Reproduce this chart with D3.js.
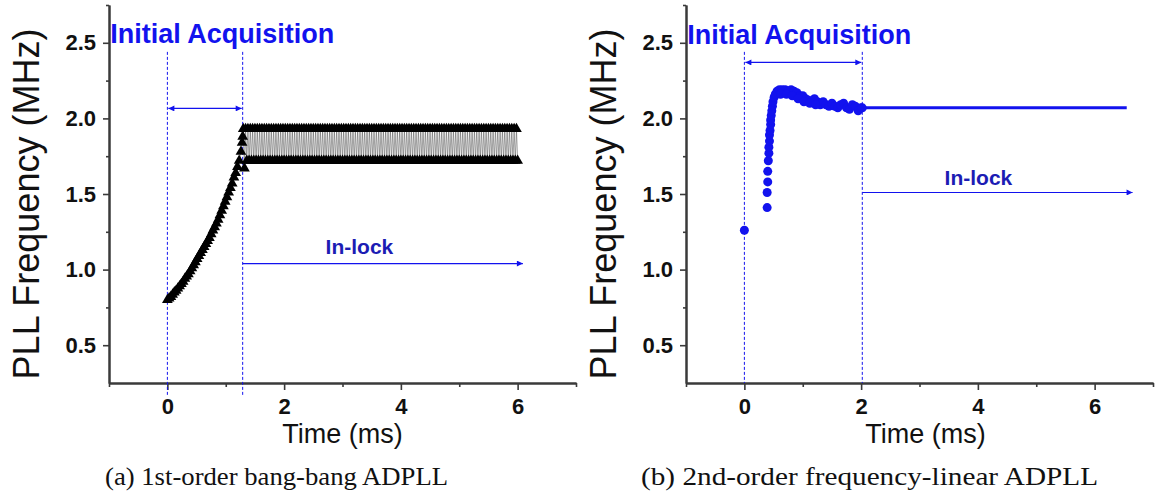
<!DOCTYPE html>
<html>
<head>
<meta charset="utf-8">
<script src="https://cdn.jsdelivr.net/npm/d3@7"></script>
<style>
  body { margin: 0; background: #fff; }
  svg { display: block; }
</style>
</head>
<body>
<svg id="fig" width="1155" height="497"></svg>
<script>
// (a) 1st-order bang-bang: acquisition ramp (ms, MHz)
const acqTimeA = [0.00, 0.03, 0.06, 0.09, 0.12, 0.15, 0.18, 0.21, 0.24, 0.27,
    0.30, 0.33, 0.36, 0.39, 0.42, 0.45, 0.48, 0.51, 0.54, 0.57,
    0.60, 0.63, 0.66, 0.69, 0.72, 0.75, 0.78, 0.81, 0.84, 0.87,
    0.90, 0.93, 0.96, 0.99, 1.02, 1.05, 1.08, 1.11, 1.14, 1.17,
    1.20, 1.23, 1.26, 1.28, 1.29];
const acqFreqA = [0.80, 0.81, 0.82, 0.835, 0.85, 0.86, 0.875, 0.89, 0.905, 0.92,
    0.94, 0.955, 0.97, 0.99, 1.01, 1.03, 1.05, 1.07, 1.09, 1.11,
    1.13, 1.15, 1.17, 1.19, 1.21, 1.235, 1.26, 1.28, 1.305, 1.33,
    1.36, 1.39, 1.42, 1.45, 1.48, 1.51, 1.54, 1.57, 1.61, 1.64,
    1.68, 1.72, 1.78, 1.84, 1.88];

// (a) in-lock: toggles between two codes every sample
const lockTimeA = [1.30, 1.32, 1.34, 1.36, 1.38, 1.40, 1.42, 1.44, 1.46, 1.48,
    1.50, 1.52, 1.54, 1.56, 1.58, 1.60, 1.62, 1.64, 1.66, 1.68,
    1.70, 1.72, 1.74, 1.76, 1.78, 1.80, 1.82, 1.84, 1.86, 1.88,
    1.90, 1.92, 1.94, 1.96, 1.98, 2.00, 2.02, 2.04, 2.06, 2.08,
    2.10, 2.12, 2.14, 2.16, 2.18, 2.20, 2.22, 2.24, 2.26, 2.28,
    2.30, 2.32, 2.34, 2.36, 2.38, 2.40, 2.42, 2.44, 2.46, 2.48,
    2.50, 2.52, 2.54, 2.56, 2.58, 2.60, 2.62, 2.64, 2.66, 2.68,
    2.70, 2.72, 2.74, 2.76, 2.78, 2.80, 2.82, 2.84, 2.86, 2.88,
    2.90, 2.92, 2.94, 2.96, 2.98, 3.00, 3.02, 3.04, 3.06, 3.08,
    3.10, 3.12, 3.14, 3.16, 3.18, 3.20, 3.22, 3.24, 3.26, 3.28,
    3.30, 3.32, 3.34, 3.36, 3.38, 3.40, 3.42, 3.44, 3.46, 3.48,
    3.50, 3.52, 3.54, 3.56, 3.58, 3.60, 3.62, 3.64, 3.66, 3.68,
    3.70, 3.72, 3.74, 3.76, 3.78, 3.80, 3.82, 3.84, 3.86, 3.88,
    3.90, 3.92, 3.94, 3.96, 3.98, 4.00, 4.02, 4.04, 4.06, 4.08,
    4.10, 4.12, 4.14, 4.16, 4.18, 4.20, 4.22, 4.24, 4.26, 4.28,
    4.30, 4.32, 4.34, 4.36, 4.38, 4.40, 4.42, 4.44, 4.46, 4.48,
    4.50, 4.52, 4.54, 4.56, 4.58, 4.60, 4.62, 4.64, 4.66, 4.68,
    4.70, 4.72, 4.74, 4.76, 4.78, 4.80, 4.82, 4.84, 4.86, 4.88,
    4.90, 4.92, 4.94, 4.96, 4.98, 5.00, 5.02, 5.04, 5.06, 5.08,
    5.10, 5.12, 5.14, 5.16, 5.18, 5.20, 5.22, 5.24, 5.26, 5.28,
    5.30, 5.32, 5.34, 5.36, 5.38, 5.40, 5.42, 5.44, 5.46, 5.48,
    5.50, 5.52, 5.54, 5.56, 5.58, 5.60, 5.62, 5.64, 5.66, 5.68,
    5.70, 5.72, 5.74, 5.76, 5.78, 5.80, 5.82, 5.84, 5.86, 5.88,
    5.90, 5.92, 5.94, 5.96, 5.98, 6.00];
const lockFreqA = [1.93, 1.67, 1.93, 1.72, 1.93, 1.72, 1.93, 1.72, 1.93, 1.72,
    1.93, 1.72, 1.93, 1.72, 1.93, 1.72, 1.93, 1.72, 1.93, 1.72,
    1.93, 1.72, 1.93, 1.72, 1.93, 1.72, 1.93, 1.72, 1.93, 1.72,
    1.93, 1.72, 1.93, 1.72, 1.93, 1.72, 1.93, 1.72, 1.93, 1.72,
    1.93, 1.72, 1.93, 1.72, 1.93, 1.72, 1.93, 1.72, 1.93, 1.72,
    1.93, 1.72, 1.93, 1.72, 1.93, 1.72, 1.93, 1.72, 1.93, 1.72,
    1.93, 1.72, 1.93, 1.72, 1.93, 1.72, 1.93, 1.72, 1.93, 1.72,
    1.93, 1.72, 1.93, 1.72, 1.93, 1.72, 1.93, 1.72, 1.93, 1.72,
    1.93, 1.72, 1.93, 1.72, 1.93, 1.72, 1.93, 1.72, 1.93, 1.72,
    1.93, 1.72, 1.93, 1.72, 1.93, 1.72, 1.93, 1.72, 1.93, 1.72,
    1.93, 1.72, 1.93, 1.72, 1.93, 1.72, 1.93, 1.72, 1.93, 1.72,
    1.93, 1.72, 1.93, 1.72, 1.93, 1.72, 1.93, 1.72, 1.93, 1.72,
    1.93, 1.72, 1.93, 1.72, 1.93, 1.72, 1.93, 1.72, 1.93, 1.72,
    1.93, 1.72, 1.93, 1.72, 1.93, 1.72, 1.93, 1.72, 1.93, 1.72,
    1.93, 1.72, 1.93, 1.72, 1.93, 1.72, 1.93, 1.72, 1.93, 1.72,
    1.93, 1.72, 1.93, 1.72, 1.93, 1.72, 1.93, 1.72, 1.93, 1.72,
    1.93, 1.72, 1.93, 1.72, 1.93, 1.72, 1.93, 1.72, 1.93, 1.72,
    1.93, 1.72, 1.93, 1.72, 1.93, 1.72, 1.93, 1.72, 1.93, 1.72,
    1.93, 1.72, 1.93, 1.72, 1.93, 1.72, 1.93, 1.72, 1.93, 1.72,
    1.93, 1.72, 1.93, 1.72, 1.93, 1.72, 1.93, 1.72, 1.93, 1.72,
    1.93, 1.72, 1.93, 1.72, 1.93, 1.72, 1.93, 1.72, 1.93, 1.72,
    1.93, 1.72, 1.93, 1.72, 1.93, 1.72, 1.93, 1.72, 1.93, 1.72,
    1.93, 1.72, 1.93, 1.72, 1.93, 1.72, 1.93, 1.72, 1.93, 1.72,
    1.93, 1.72, 1.93, 1.72, 1.93, 1.72];

// (b) 2nd-order frequency-linear: acquisition samples
const acqTimeB = [0.00, 0.39, 0.39, 0.40, 0.40, 0.41, 0.42, 0.42, 0.43, 0.43,
    0.44, 0.45, 0.45, 0.46, 0.47, 0.48, 0.49, 0.51, 0.53, 0.56,
    0.60, 0.65, 0.70, 0.75, 0.80, 0.85, 0.90, 0.95, 1.00, 1.05,
    1.10, 1.15, 1.20, 1.25, 1.30, 1.35, 1.40, 1.45, 1.50, 1.55,
    1.60, 1.65, 1.70, 1.75, 1.80, 1.85, 1.90, 1.95, 2.00, 2.02,
    0.62, 0.72, 0.82, 0.92, 1.02, 1.12, 1.22];
const acqFreqB = [1.26, 1.41, 1.51, 1.58, 1.65, 1.72, 1.77, 1.81, 1.85, 1.89,
    1.92, 1.96, 1.99, 2.02, 2.05, 2.08, 2.11, 2.14, 2.16, 2.18,
    2.19, 2.19, 2.19, 2.18, 2.19, 2.18, 2.17, 2.15, 2.15, 2.13,
    2.12, 2.11, 2.13, 2.11, 2.09, 2.11, 2.09, 2.08, 2.10, 2.08,
    2.07, 2.09, 2.10, 2.07, 2.06, 2.09, 2.08, 2.05, 2.07, 2.07,
    2.16, 2.16, 2.15, 2.13, 2.11, 2.10, 2.09];

// (b) in-lock: flat
const lockTimeB = [2.02, 6.55];
const lockFreqB = [2.07, 2.07];

const xTicks = [0, 2, 4, 6];
const xMinor = [-1, 1, 3, 5, 7];
const yTicks = [0.5, 1.0, 1.5, 2.0, 2.5];
const yMinor = [0.75, 1.25, 1.75, 2.25, 2.75];

const captions = ["(a) 1st-order bang-bang ADPLL", "(b) 2nd-order frequency-linear ADPLL"];

const BLUE = "#1212ee";
const NAVY = "#1c1cb4";
const W = 467, H = 378;

function drawPanel(svg, left, opt) {
    let g = svg.append("g").attr("transform", `translate(${left},5)`);
    let x = d3.scaleLinear().domain([-1, 7]).range([0, W]);
    let y = d3.scaleLinear().domain([0.25, 2.75]).range([H, 0]);

    // axes
    g.append("g").attr("transform", `translate(0,${H})`)
        .call(d3.axisBottom(x).tickValues(xTicks).tickFormat(d3.format("d")).tickSize(7).tickPadding(8).tickSizeOuter(0));
    g.append("g").attr("transform", `translate(0,${H})`)
        .call(d3.axisBottom(x).tickValues(xMinor).tickFormat("").tickSize(4).tickSizeOuter(0));
    g.append("g")
        .call(d3.axisLeft(y).tickValues(yTicks).tickFormat(d3.format(".1f")).tickSize(6).tickPadding(7).tickSizeOuter(0));
    g.append("g")
        .call(d3.axisLeft(y).tickValues(yMinor).tickFormat("").tickSize(3).tickSizeOuter(0));
    g.selectAll(".domain").attr("stroke", "#3a3a3a").attr("stroke-width", 2);
    g.selectAll(".tick line").attr("stroke", "#3a3a3a").attr("stroke-width", 1.6);
    g.selectAll(".tick text").attr("fill", "#111")
        .style("font-family", "'Liberation Sans', Arial, sans-serif")
        .style("font-size", "22px").style("font-weight", "bold");

    // axis titles
    g.append("text")
        .attr("transform", "translate(-70,199) rotate(-90)")
        .attr("text-anchor", "middle")
        .style("font-family", "'Liberation Sans', Arial, sans-serif")
        .style("font-size", "36px").attr("fill", "#111")
        .text("PLL Frequency (MHz)");
    g.append("text")
        .attr("x", W / 2 + opt.titleShift).attr("y", 438)
        .attr("text-anchor", "middle")
        .style("font-family", "'Liberation Sans', Arial, sans-serif")
        .style("font-size", "27px").attr("fill", "#111")
        .text("Time (ms)");

    // annotations (behind data)
    opt.marks.forEach(t => {
        g.append("line")
            .attr("x1", x(t)).attr("x2", x(t))
            .attr("y1", y(2.44)).attr("y2", y(opt.dashBottom))
            .attr("stroke", BLUE).attr("stroke-width", 1).attr("stroke-dasharray", "3,2");
    });
    g.append("line")
        .attr("x1", x(opt.marks[0]) + 1).attr("x2", x(opt.marks[1]) - 1)
        .attr("y1", y(opt.spanFreq)).attr("y2", y(opt.spanFreq))
        .attr("stroke", BLUE).attr("stroke-width", 1.2)
        .attr("marker-start", "url(#arrowL)").attr("marker-end", "url(#arrowR)");
    g.append("line")
        .attr("x1", x(opt.marks[1])).attr("x2", x(opt.lockEnd))
        .attr("y1", y(opt.lockArrowFreq)).attr("y2", y(opt.lockArrowFreq))
        .attr("stroke", BLUE).attr("stroke-width", 1.2)
        .attr("marker-end", "url(#arrowR)");

    g.append("text")
        .attr("x", x(-0.98)).attr("y", y(opt.titleFreq))
        .style("font-family", "'Liberation Sans', Arial, sans-serif")
        .style("font-size", "27px").style("font-weight", "bold")
        .attr("fill", BLUE).text("Initial Acquisition");
    g.append("text")
        .attr("x", x(opt.lockText[0])).attr("y", y(opt.lockText[1]))
        .style("font-family", "'Liberation Sans', Arial, sans-serif")
        .style("font-size", "21px").style("font-weight", "bold")
        .attr("fill", NAVY).text("In-lock");

    // caption
    svg.append("text")
        .attr("x", opt.caption[0]).attr("y", 485)
        .attr("textLength", opt.caption[1]).attr("lengthAdjust", "spacingAndGlyphs")
        .style("font-family", "'Liberation Serif', 'Times New Roman', serif")
        .style("font-size", "25px").attr("fill", "#111")
        .text(opt.caption[2]);

    return { g, x, y };
}

function drawFigure() {
    let svg = d3.select("#fig");
    let defs = svg.append("defs");
    defs.append("marker").attr("id", "arrowR")
        .attr("viewBox", "0 0 10 10").attr("refX", 10).attr("refY", 5)
        .attr("markerWidth", 8).attr("markerHeight", 6).attr("markerUnits", "userSpaceOnUse")
        .attr("orient", "auto")
        .append("path").attr("d", "M0,0L10,5L0,10Z").attr("fill", BLUE);
    defs.append("marker").attr("id", "arrowL")
        .attr("viewBox", "0 0 10 10").attr("refX", 0).attr("refY", 5)
        .attr("markerWidth", 8).attr("markerHeight", 6).attr("markerUnits", "userSpaceOnUse")
        .attr("orient", "auto")
        .append("path").attr("d", "M10,0L0,5L10,10Z").attr("fill", BLUE);

    // panel (a)
    let a = drawPanel(svg, 109, {
        marks: [0, 1.29], dashBottom: 0.17, spanFreq: 2.066,
        lockEnd: 6.09, lockArrowFreq: 1.04, titleFreq: 2.5,
        lockText: [2.71, 1.1], titleShift: 0,
        caption: [105, 343, captions[0]]
    });
    let ptsA = acqTimeA.map((t, i) => [t, acqFreqA[i]])
        .concat(lockTimeA.map((t, i) => [t, lockFreqA[i]]));
    let lineA = d3.line().x(d => a.x(d[0])).y(d => a.y(d[1]));
    a.g.append("path").datum(ptsA)
        .attr("fill", "none").attr("stroke", "#444").attr("stroke-width", 0.5)
        .attr("d", lineA);
    let tri = d3.symbol().type(d3.symbolTriangle).size(50);
    a.g.selectAll("path.tri").data(ptsA).enter().append("path")
        .attr("class", "tri")
        .attr("transform", d => `translate(${a.x(d[0])},${a.y(d[1])})`)
        .attr("d", tri).attr("fill", "#000");

    // panel (b)
    let b = drawPanel(svg, 686, {
        marks: [0, 2.02], dashBottom: 0.25, spanFreq: 2.37,
        lockEnd: 6.65, lockArrowFreq: 1.51, titleFreq: 2.49,
        lockText: [3.43, 1.56], titleShift: 6,
        caption: [641, 457, captions[1]]
    });
    let lineB = d3.line().x(d => b.x(d[0])).y(d => b.y(d[1]));
    b.g.append("path").datum(lockTimeB.map((t, i) => [t, lockFreqB[i]]))
        .attr("fill", "none").attr("stroke", BLUE).attr("stroke-width", 3)
        .attr("d", lineB);
    b.g.selectAll("circle.dot").data(acqTimeB.map((t, i) => [t, acqFreqB[i]]))
        .enter().append("circle").attr("class", "dot")
        .attr("cx", d => b.x(d[0])).attr("cy", d => b.y(d[1]))
        .attr("r", 4.5).attr("fill", BLUE);
}

document.addEventListener("DOMContentLoaded", () => {
    drawFigure();
});
</script>
</body>
</html>
